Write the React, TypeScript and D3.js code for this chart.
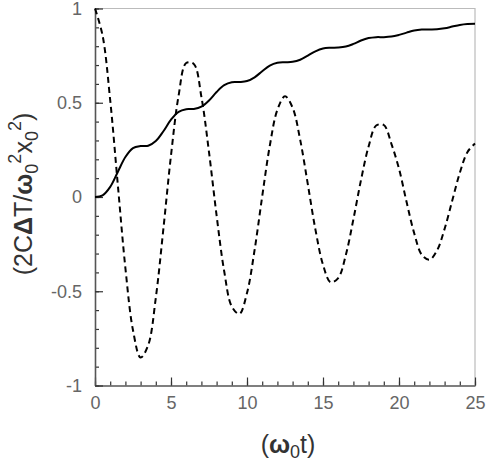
import React, { useEffect, useRef } from "react";
import * as d3 from "d3";

// time axis, in units of omega_0 t
const tValues = [
  0, 0.5, 1, 1.5, 2, 2.5, 3, 3.5, 4, 4.5, 5, 5.5, 6, 6.5, 7, 7.5, 8, 8.5, 9,
  9.5, 10, 10.5, 11, 11.5, 12, 12.5, 13, 13.5, 14, 14.5, 15, 15.5, 16, 16.5, 17,
  17.5, 18, 18.5, 19, 19.5, 20, 20.5, 21, 21.5, 22, 22.5, 23, 23.5, 24, 24.5, 25,
];

// dashed curve (damped oscillation)
const dashedValues = [
  1.0, 0.856, 0.514, 0.066, -0.377, -0.707, -0.852, -0.786, -0.535, -0.168,
  0.221, 0.538, 0.711, 0.706, 0.531, 0.238, -0.098, -0.394, -0.581, -0.62,
  -0.509, -0.281, 0.003, 0.272, 0.463, 0.534, 0.474, 0.303, 0.068, -0.172,
  -0.359, -0.452, -0.43, -0.308, -0.118, 0.09, 0.268, 0.379, 0.382, 0.282,
  0.15, -0.027, -0.192, -0.307, -0.333, -0.284, -0.169, -0.02, 0.128, 0.238,
  0.284,
];

// solid curve (stepwise rise)
const solidValues = [
  0, 0.009, 0.054, 0.133, 0.212, 0.259, 0.27, 0.272, 0.297, 0.349, 0.41, 0.452,
  0.466, 0.467, 0.479, 0.512, 0.557, 0.593, 0.609, 0.61, 0.615, 0.635, 0.667,
  0.697, 0.712, 0.715, 0.717, 0.728, 0.75, 0.773, 0.788, 0.792, 0.793, 0.798,
  0.812, 0.83, 0.843, 0.848, 0.848, 0.851, 0.86, 0.872, 0.883, 0.888, 0.889,
  0.89, 0.895, 0.904, 0.913, 0.918, 0.919,
];

const xMajorTicks = [0, 5, 10, 15, 20, 25];
const yMajorTicks = [-1, -0.5, 0, 0.5, 1];

const App: React.FC = () => {
  const svgRef = useRef<SVGSVGElement | null>(null);

  useEffect(() => {
    const width = 489;
    const height = 464;
    const marginLeft = 95;
    const marginRight = 14;
    const marginTop = 8.5;
    const marginBottom = 78.5;

    const svg = d3.select(svgRef.current);
    svg.selectAll("*").remove();
    svg
      .attr("width", width)
      .attr("height", height)
      .attr("viewBox", [0, 0, width, height])
      .style("font-family", "'Liberation Sans', Arial, sans-serif");

    const x = d3
      .scaleLinear()
      .domain([0, 25])
      .range([marginLeft, width - marginRight]);

    const y = d3
      .scaleLinear()
      .domain([-1, 1])
      .range([height - marginBottom, marginTop]);

    // frame (top and right, light)
    svg
      .append("path")
      .attr("d", `M${x(0)},${y(1)}H${x(25)}V${y(-1)}`)
      .attr("fill", "none")
      .attr("stroke", "#bbb")
      .attr("stroke-width", 1.2);

    // minor ticks
    svg
      .append("g")
      .attr("transform", `translate(0,${y(-1)})`)
      .call(
        d3
          .axisBottom(x)
          .ticks(25)
          .tickSizeInner(-4)
          .tickSizeOuter(0)
          .tickFormat(() => ""),
      )
      .call((g) => g.select(".domain").remove())
      .selectAll("line")
      .attr("stroke", "#333")
      .attr("stroke-width", 1.2);

    svg
      .append("g")
      .attr("transform", `translate(${x(0)},0)`)
      .call(
        d3
          .axisLeft(y)
          .ticks(20)
          .tickSizeInner(-4)
          .tickSizeOuter(0)
          .tickFormat(() => ""),
      )
      .call((g) => g.select(".domain").remove())
      .selectAll("line")
      .attr("stroke", "#333")
      .attr("stroke-width", 1.2);

    // major ticks + labels
    const gx = svg
      .append("g")
      .attr("transform", `translate(0,${y(-1)})`)
      .call(
        d3
          .axisBottom(x)
          .tickValues(xMajorTicks)
          .tickSizeInner(-8)
          .tickSizeOuter(0)
          .tickPadding(11)
          .tickFormat((d) => String(d)),
      );
    gx.select(".domain").attr("stroke", "#555").attr("stroke-width", 1.6);
    gx.selectAll("line").attr("stroke", "#333").attr("stroke-width", 1.2);
    gx.selectAll("text")
      .style("font-size", "18px")
      .style("font-family", "'Liberation Sans', Arial, sans-serif")
      .attr("fill", "#666");

    const gy = svg
      .append("g")
      .attr("transform", `translate(${x(0)},0)`)
      .call(
        d3
          .axisLeft(y)
          .tickValues(yMajorTicks)
          .tickSizeInner(-8)
          .tickSizeOuter(0)
          .tickPadding(13)
          .tickFormat((d) => String(d)),
      );
    gy.select(".domain").attr("stroke", "#555").attr("stroke-width", 1.6);
    gy.selectAll("line").attr("stroke", "#333").attr("stroke-width", 1.2);
    gy.selectAll("text")
      .style("font-size", "18px")
      .style("font-family", "'Liberation Sans', Arial, sans-serif")
      .attr("fill", "#666");

    // curves
    const line = d3
      .line<number>()
      .x((_, i) => x(tValues[i]))
      .y((d) => y(d))
      .curve(d3.curveCatmullRom.alpha(0.5));

    svg
      .append("path")
      .datum(dashedValues)
      .attr("d", line)
      .attr("fill", "none")
      .attr("stroke", "#000")
      .attr("stroke-width", 2)
      .attr("stroke-dasharray", "6,4");

    svg
      .append("path")
      .datum(solidValues)
      .attr("d", line)
      .attr("fill", "none")
      .attr("stroke", "#000")
      .attr("stroke-width", 2);

    // x axis title: (ω0 t)
    const xt = svg
      .append("text")
      .attr("x", (x(0) + x(25)) / 2 + 3)
      .attr("y", 453)
      .attr("text-anchor", "middle")
      .attr("fill", "#333")
      .style("font-size", "25px");
    xt.append("tspan").text("(");
    xt.append("tspan").attr("font-weight", "bold").text("ω");
    xt.append("tspan").attr("dy", 5).style("font-size", "18px").text("0");
    xt.append("tspan").attr("dy", -5).text("t)");

    // y axis title: (2CΔT/ω0²x0²)
    const yt = svg
      .append("text")
      .attr("transform", `translate(32,${(y(-1) + y(1)) / 2 - 3}) rotate(-90)`)
      .attr("text-anchor", "middle")
      .attr("fill", "#333")
      .style("font-size", "25px");
    yt.append("tspan").text("(2C");
    yt.append("tspan").attr("font-weight", "bold").text("Δ");
    yt.append("tspan").text("T/");
    yt.append("tspan").attr("font-weight", "bold").text("ω");
    yt.append("tspan").attr("dy", 6).style("font-size", "18px").text("0");
    yt.append("tspan").attr("dy", -17).style("font-size", "18px").text("2");
    yt.append("tspan").attr("dy", 11).text("x");
    yt.append("tspan").attr("dy", 6).style("font-size", "18px").text("0");
    yt.append("tspan").attr("dy", -17).style("font-size", "18px").text("2");
    yt.append("tspan").attr("dy", 11).text(")");
  }, []);

  return (
    <svg
      ref={svgRef}
      style={{ position: "absolute", left: 0, top: 0, display: "block" }}
    ></svg>
  );
};

export default App;
